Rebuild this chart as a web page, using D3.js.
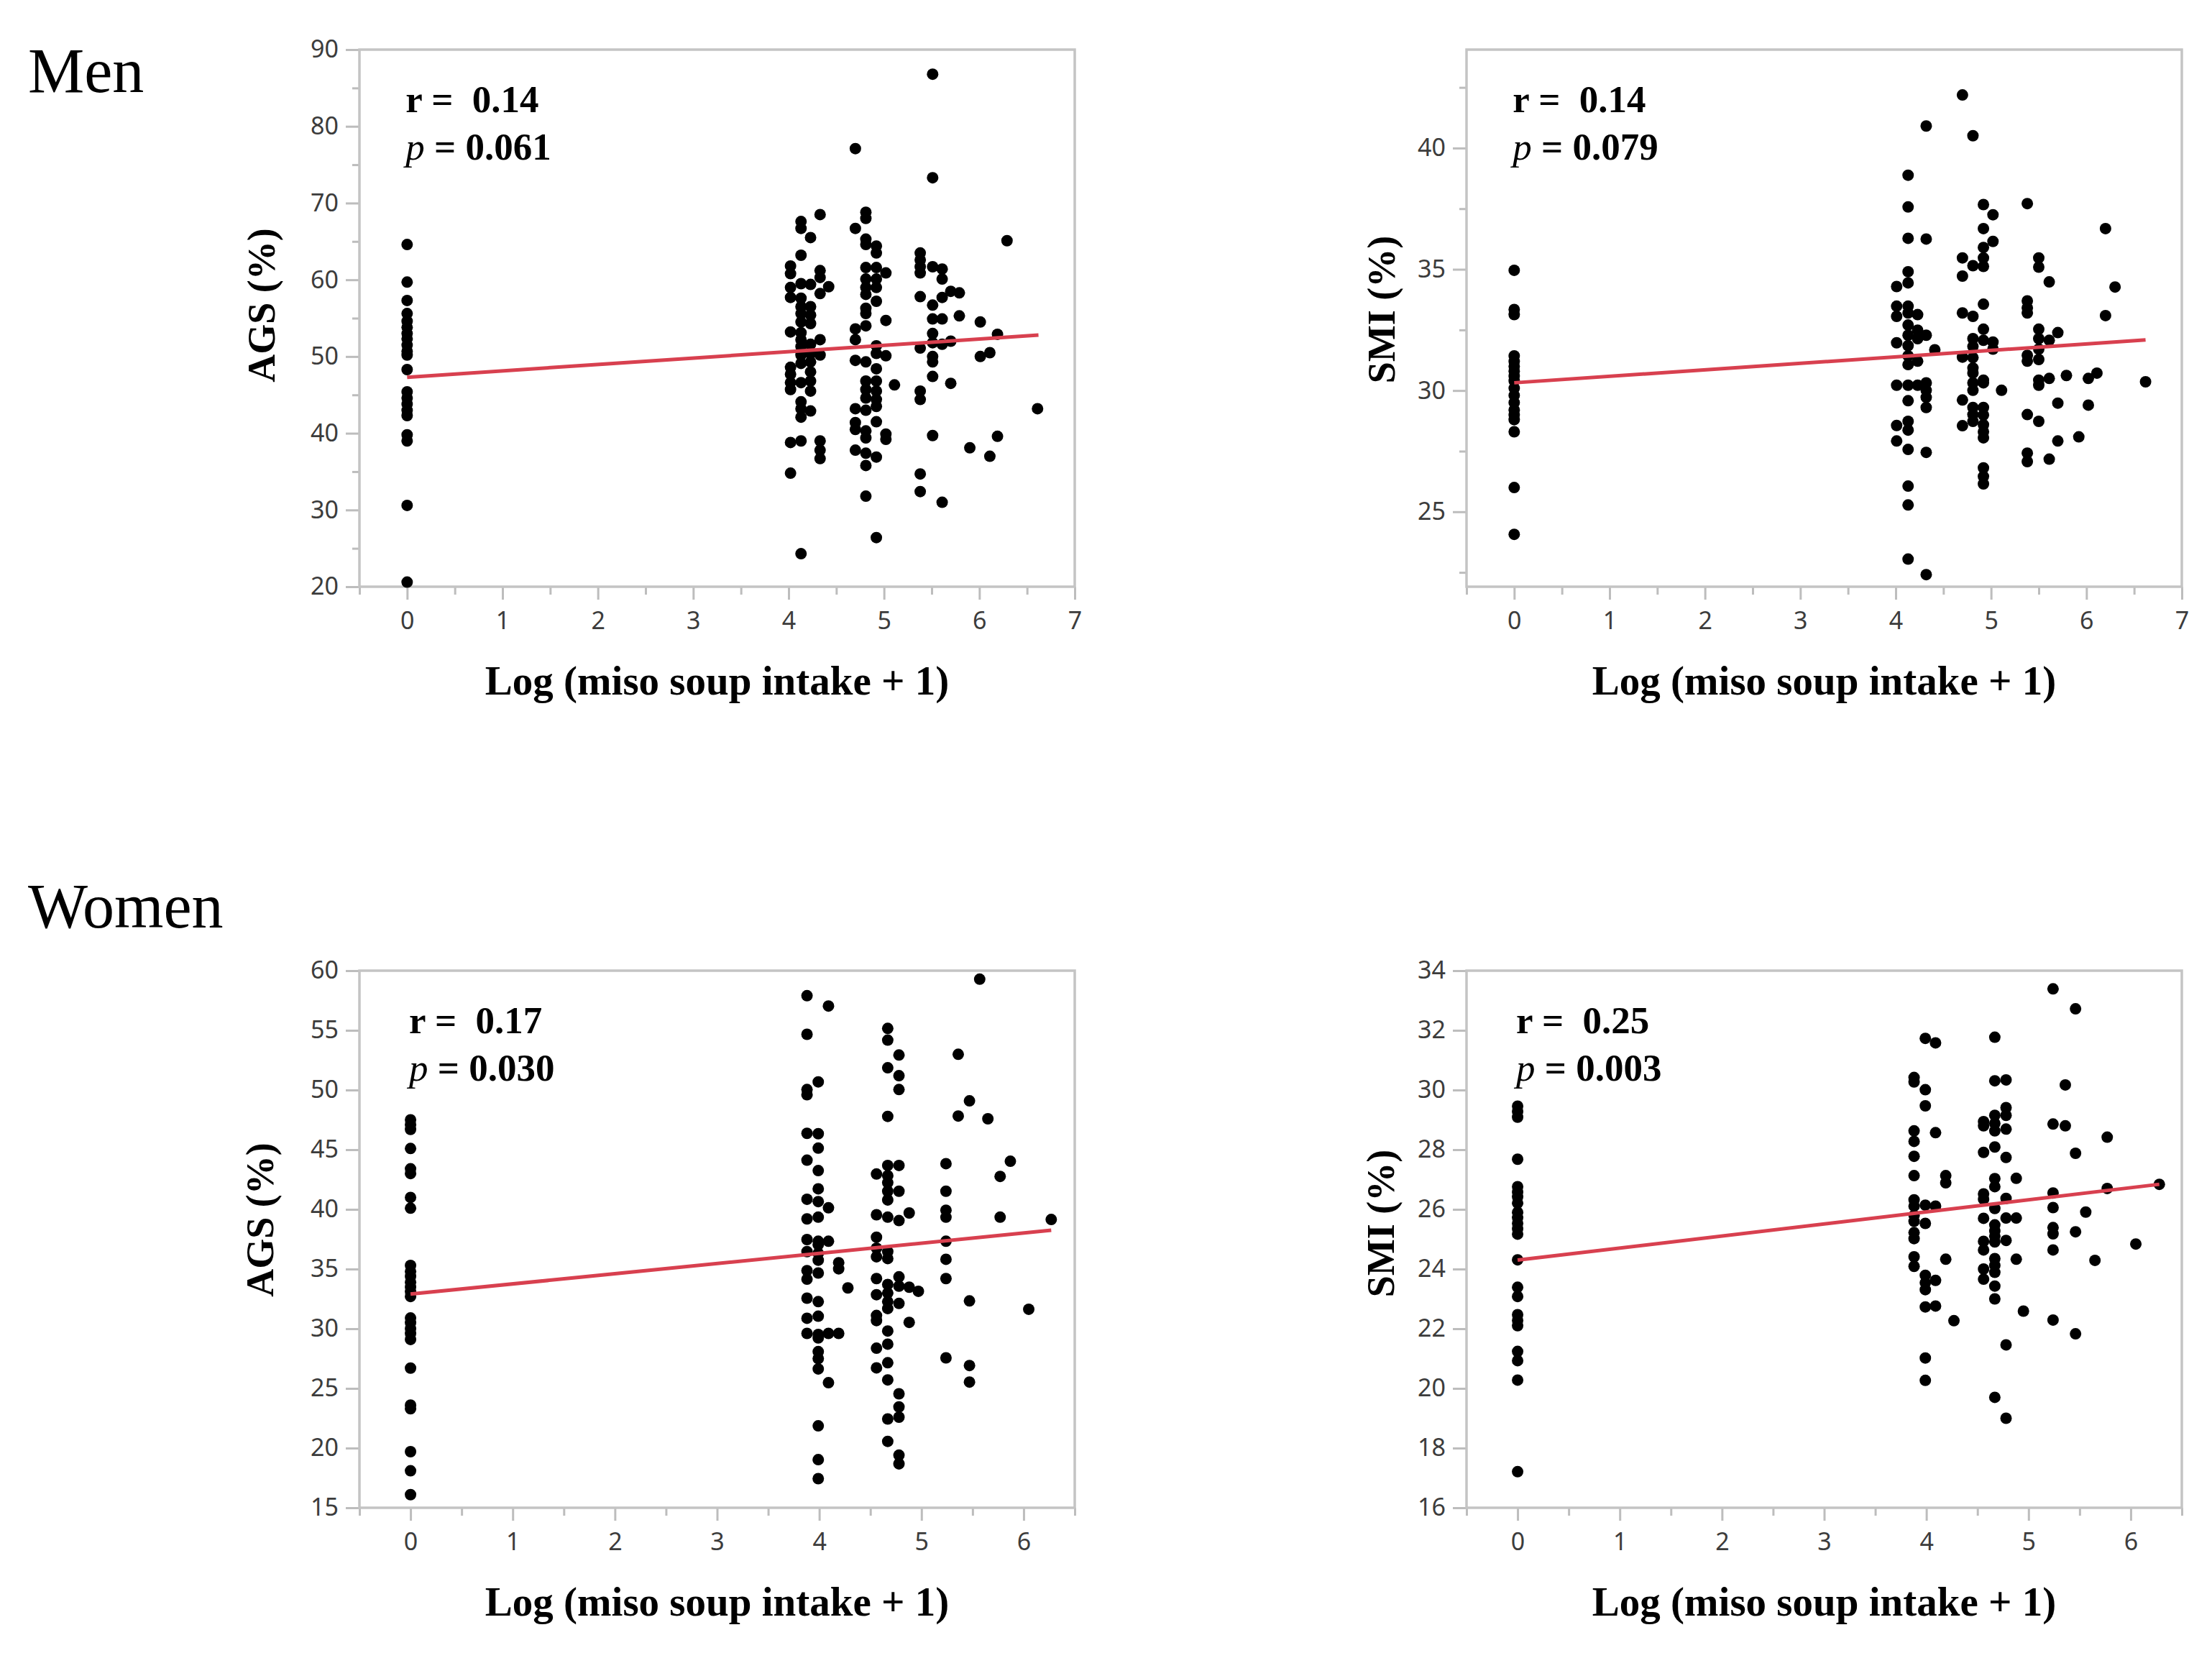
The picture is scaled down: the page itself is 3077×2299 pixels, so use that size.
<!DOCTYPE html>
<html>
<head>
<meta charset="utf-8" />
<title>Miso soup intake vs AGS / SMI</title>
<script src="https://cdn.jsdelivr.net/npm/d3@7/dist/d3.min.js"></script>
<style>
  body { margin: 0; background: #fff; }
  text { white-space: pre; }
</style>
</head>
<body>
<script>
// ---- data ----
var sexLabels = ["Men", "Women"];

// x = 0 column (no miso soup) and the rest of each panel, as [x, y]
var menAgsZero = [64.6, 59.7, 57.3, 55.6, 54.6, 53.8, 53.0, 52.3, 51.5, 50.7, 50.2, 48.3,
                  45.4, 44.6, 43.8, 43.0, 42.3, 39.8, 39.0, 30.6, 20.6];
var menAgsPoints = [[5.51,86.8],[4.70,77.1],[5.51,73.3],[4.33,68.5],[4.81,68.8],[4.81,68.0],[4.13,67.6],
  [4.13,66.7],[4.23,65.5],[4.70,66.7],[4.81,65.3],[4.81,64.6],[4.92,64.4],[4.92,63.5],[4.13,63.2],
  [5.38,63.5],[5.38,62.6],[5.38,61.7],[5.38,60.9],[4.02,61.8],[4.02,60.8],[4.33,61.2],[4.33,60.3],
  [4.42,59.1],[4.33,58.2],[4.13,59.5],[4.23,59.4],[4.81,61.6],[4.92,61.6],[5.02,60.9],[4.81,60.1],
  [4.92,60.1],[4.81,59.0],[4.92,59.0],[4.81,58.1],[4.92,57.2],[4.81,56.3],[4.81,55.6],[5.02,54.7],
  [4.81,54.0],[5.51,61.7],[5.61,61.4],[5.61,60.1],[4.02,59.0],[4.02,57.7],[4.13,57.6],[4.13,56.5],
  [4.23,56.5],[4.13,55.6],[4.23,55.4],[4.13,54.5],[4.23,54.3],[4.02,53.2],[4.13,53.1],[4.13,52.2],
  [4.33,52.2],[4.23,51.6],[4.13,51.3],[4.23,50.4],[4.33,50.2],[4.13,50.2],[5.38,57.8],[5.51,56.7],
  [5.61,57.7],[5.70,58.5],[5.79,58.3],[5.51,54.9],[5.61,54.9],[5.79,55.3],[6.01,54.5],[5.51,53.0],
  [5.51,51.8],[5.61,51.6],[5.70,52.0],[5.38,51.1],[6.19,52.9],[4.70,53.6],[4.70,52.2],[4.92,51.4],
  [4.92,50.4],[5.02,50.1],[4.70,49.5],[4.81,49.3],[4.92,48.4],[4.81,46.8],[4.92,46.8],[5.11,46.3],
  [4.81,45.7],[4.92,45.5],[4.81,44.6],[4.92,44.4],[4.92,43.5],[4.70,43.2],[4.81,43.0],[4.92,41.5],
  [4.70,41.4],[4.70,40.5],[4.81,40.3],[4.81,39.4],[5.02,39.9],[5.02,39.2],[4.70,37.8],[4.81,37.4],
  [4.92,36.9],[4.81,35.8],[4.81,31.8],[4.92,26.4],[6.01,50.0],[6.11,50.5],[4.02,48.6],[4.13,49.1],
  [4.23,49.3],[4.02,47.7],[4.23,48.0],[4.02,46.6],[4.13,46.6],[4.23,46.8],[4.02,45.7],[4.23,45.5],
  [4.13,44.1],[4.13,43.2],[4.23,42.9],[4.13,42.1],[4.02,38.8],[4.13,39.0],[4.33,39.0],[4.33,37.8],
  [4.33,36.7],[4.02,34.8],[4.13,24.3],[5.51,50.0],[5.51,49.3],[5.51,47.4],[5.70,46.5],[5.38,45.5],
  [5.38,44.4],[5.51,39.7],[5.90,38.1],[6.11,37.0],[6.19,39.6],[5.38,34.7],[5.38,32.4],[5.61,31.0],
  [6.29,65.1],[6.61,43.2]];

var menSmiZero = [34.96, 33.34, 33.13, 31.43, 31.2, 31.0, 30.8, 30.6, 30.4, 30.1, 29.8, 29.5,
                  29.2, 29.0, 28.8, 28.3, 26.0, 24.07];
var menSmiPoints = [[4.70,42.19],[4.32,40.91],[4.81,40.51],[4.13,38.88],[4.13,37.57],[4.92,37.67],
  [5.02,37.25],[5.38,37.71],[4.13,36.28],[4.32,36.25],[4.92,36.68],[5.02,36.15],[4.92,35.90],
  [6.20,36.68],[4.70,35.47],[4.92,35.47],[4.81,35.15],[4.92,35.12],[5.50,35.47],[5.50,35.09],
  [4.70,34.72],[5.61,34.48],[6.30,34.27],[4.13,34.90],[4.13,34.44],[4.01,34.29],[4.01,33.48],
  [4.13,33.48],[4.01,33.06],[4.13,33.20],[4.23,33.13],[4.13,32.70],[4.23,32.49],[4.32,32.28],
  [4.13,32.28],[4.01,31.97],[4.13,31.85],[4.23,32.14],[4.41,31.68],[4.13,31.43],[4.23,31.21],
  [4.13,31.07],[4.92,33.56],[4.70,33.20],[4.81,33.06],[5.38,33.70],[5.38,33.41],[5.38,33.20],
  [6.20,33.09],[4.92,32.53],[4.81,32.14],[4.92,32.07],[5.02,32.00],[4.81,31.82],[5.02,31.71],
  [5.50,32.53],[5.70,32.39],[5.50,32.14],[5.61,32.07],[5.50,31.71],[4.70,31.38],[4.81,31.36],
  [4.81,30.93],[4.81,30.72],[5.38,31.45],[5.38,31.21],[5.50,31.28],[4.01,30.22],[4.13,30.22],
  [4.23,30.22],[4.32,30.32],[4.32,30.01],[4.32,29.72],[4.32,29.30],[4.13,29.58],[4.92,30.43],
  [4.81,30.32],[4.92,30.32],[4.81,30.01],[5.11,30.01],[5.50,30.43],[5.61,30.50],[5.79,30.62],
  [6.02,30.50],[6.11,30.72],[5.50,30.22],[6.62,30.36],[4.70,29.61],[4.81,29.30],[4.92,29.30],
  [4.81,29.01],[4.92,28.99],[4.81,28.73],[4.92,28.59],[4.92,28.30],[4.92,28.05],[5.70,29.48],
  [6.02,29.40],[4.01,28.56],[4.13,28.73],[4.13,28.37],[4.01,27.92],[4.13,27.57],[4.32,27.45],
  [4.70,28.55],[5.38,29.01],[5.50,28.73],[5.70,27.92],[5.92,28.09],[5.38,27.42],[5.38,27.07],
  [5.61,27.17],[4.92,26.81],[4.92,26.46],[4.92,26.15],[4.13,26.06],[4.13,25.28],[4.13,23.05],
  [4.32,22.41]];

var womenAgsZero = [47.5, 47.1, 46.7, 45.1, 43.4, 43.0, 41.0, 40.1, 35.3, 34.8, 34.4, 33.9, 33.5,
                    33.1, 32.7, 30.9, 30.5, 30.0, 29.6, 29.1, 26.7, 23.6, 23.3, 19.7, 18.1, 16.1];
var womenAgsPoints = [[5.57,59.29],[3.88,57.90],[4.09,57.04],[3.88,54.67],[4.67,55.16],[4.67,54.18],
  [4.78,52.93],[5.36,52.99],[4.67,51.86],[4.78,51.20],[4.78,50.04],[3.88,50.04],[3.88,49.61],
  [3.99,50.68],[5.47,49.09],[4.67,47.79],[5.36,47.82],[5.65,47.59],[3.88,46.37],[3.99,46.34],
  [3.99,45.13],[3.88,44.12],[3.99,43.25],[5.24,43.83],[5.87,44.03],[5.77,42.76],[4.56,42.96],
  [4.67,43.68],[4.78,43.68],[4.67,42.82],[4.67,42.24],[4.78,41.52],[4.67,41.52],[4.67,40.79],
  [5.24,41.52],[3.99,41.72],[3.88,40.85],[3.99,40.65],[4.09,40.13],[4.56,39.55],[4.67,39.35],
  [4.78,39.06],[4.88,39.70],[3.88,39.20],[3.99,39.35],[5.24,39.93],[5.24,39.35],[5.77,39.35],
  [6.27,39.15],[5.24,37.33],[3.88,37.47],[3.99,37.33],[4.09,37.33],[3.99,37.04],[3.88,36.46],
  [3.99,36.31],[3.99,35.74],[4.56,37.67],[4.56,36.75],[4.56,36.03],[4.67,36.46],[4.67,35.88],
  [4.19,35.53],[4.19,35.02],[3.88,34.87],[3.99,34.67],[3.88,34.15],[5.24,35.82],[5.24,34.20],
  [4.28,33.42],[4.56,34.20],[4.78,34.35],[4.67,33.71],[4.78,33.57],[4.88,33.48],[4.97,33.14],
  [4.67,32.99],[4.56,32.85],[4.67,32.27],[4.78,32.12],[4.67,31.69],[3.88,32.56],[3.99,32.27],
  [5.47,32.33],[6.05,31.63],[4.56,31.11],[4.56,30.68],[4.88,30.53],[3.88,30.88],[3.99,31.05],
  [3.88,29.61],[3.99,29.52],[4.09,29.61],[4.19,29.61],[3.99,29.23],[4.67,29.81],[4.67,28.71],
  [4.56,28.37],[3.99,28.08],[3.99,27.50],[3.99,26.63],[4.09,25.48],[5.24,27.56],[5.47,26.92],
  [5.47,25.53],[4.56,26.72],[4.67,27.15],[4.67,25.71],[4.78,24.55],[4.78,23.45],[4.67,22.44],
  [4.78,22.59],[3.99,21.86],[4.67,20.56],[4.78,19.41],[4.78,18.68],[3.99,19.03],[3.99,17.44]];

var womenSmiZero = [29.46, 29.28, 29.09, 27.68, 26.76, 26.58, 26.42, 26.21, 25.90, 25.72, 25.53,
                    25.35, 25.17, 24.31, 23.39, 23.08, 22.47, 22.28, 22.10, 21.24, 20.93, 20.28, 17.21];
var womenSmiPoints = [[5.24,33.39],[5.46,32.72],[3.99,31.73],[4.09,31.58],[4.67,31.77],[3.88,30.42],
  [3.88,30.27],[3.99,30.01],[3.99,29.47],[4.67,30.31],[4.78,30.34],[5.36,30.17],[4.78,29.41],
  [4.78,29.15],[4.67,29.15],[4.56,28.94],[4.56,28.80],[4.67,28.88],[4.78,28.69],[4.67,28.63],
  [3.88,28.63],[3.88,28.28],[4.09,28.57],[5.24,28.86],[5.36,28.80],[5.77,28.42],[3.88,27.78],
  [4.56,27.91],[4.67,28.09],[4.78,27.74],[5.46,27.88],[3.88,27.13],[4.19,27.13],[4.19,26.89],
  [4.88,27.04],[4.67,27.03],[4.67,26.76],[5.24,26.55],[5.77,26.70],[6.28,26.84],[4.56,26.52],
  [4.56,26.34],[4.78,26.37],[3.88,26.32],[3.88,26.11],[3.99,26.14],[4.09,26.11],[4.67,26.03],
  [5.24,26.06],[5.56,25.91],[3.88,25.80],[3.88,25.60],[3.99,25.53],[4.56,25.70],[4.78,25.71],
  [4.88,25.71],[4.67,25.48],[4.67,25.28],[4.67,25.10],[4.67,24.91],[4.78,24.96],[5.24,25.39],
  [5.24,25.18],[5.46,25.25],[3.88,25.22],[3.88,25.02],[4.56,24.93],[4.56,24.64],[5.24,24.64],
  [6.05,24.84],[3.88,24.41],[3.88,24.09],[4.19,24.33],[4.88,24.33],[5.65,24.29],[4.67,24.35],
  [4.67,24.12],[4.67,23.89],[4.56,24.00],[4.56,23.66],[3.99,23.79],[3.99,23.54],[4.09,23.62],
  [3.99,23.31],[4.67,23.43],[4.67,23.00],[3.99,22.73],[4.09,22.76],[4.27,22.27],[4.95,22.59],
  [5.24,22.29],[5.46,21.83],[4.78,21.46],[3.99,21.02],[3.99,20.27],[4.67,19.70],[4.78,19.00]];

// fitted lines [x0, y0, x1, y1]
var menAgsFit = [0, 47.3, 6.62, 52.8];
var menSmiFit = [0, 30.32, 6.62, 32.09];
var womenAgsFit = [0, 32.9, 6.27, 38.25];
var womenSmiFit = [0, 24.3, 6.28, 26.84];

// r and p values
var rValues = ["0.14", "0.14", "0.17", "0.25"];
var pValues = ["0.061", "0.079", "0.030", "0.003"];

// tick values
var menAgsTicks = [20, 30, 40, 50, 60, 70, 80, 90];
var menAgsMinor = [25, 35, 45, 55, 65, 75, 85];
var menSmiTicks = [25, 30, 35, 40];
var menSmiMinor = [22.5, 27.5, 32.5, 37.5, 42.5];
var womenAgsTicks = [15, 20, 25, 30, 35, 40, 45, 50, 55, 60];
var womenSmiTicks = [16, 18, 20, 22, 24, 26, 28, 30, 32, 34];
var menXTicks = [0, 1, 2, 3, 4, 5, 6, 7];
var womenXTicks = [0, 1, 2, 3, 4, 5, 6];
var xMinorTicks = [-0.5, 0.5, 1.5, 2.5, 3.5, 4.5, 5.5, 6.5];

var xTitle = "Log (miso soup intake + 1)";

// ---- layout ----
var width = 3077, height = 2299;
var pw = 995, ph = 747;
var serif = "'Liberation Serif', 'DejaVu Serif', serif";
var sans = "'Noto Sans', 'Open Sans', sans-serif";

var panels = [
  { left: 500,  top: 69,   xDom: [-0.5, 7],   yDom: [20, 90],        yTicks: menAgsTicks, yMinor: menAgsMinor,
    xTicks: menXTicks,   zero: menAgsZero,   pts: menAgsPoints,   fit: menAgsFit,   yTitle: "AGS (%)", titleDx: -137, titleDy: -18 },
  { left: 2040, top: 69,   xDom: [-0.5, 7],   yDom: [21.91, 44.06],  yTicks: menSmiTicks, yMinor: menSmiMinor,
    xTicks: menXTicks,   zero: menSmiZero,   pts: menSmiPoints,   fit: menSmiFit,   yTitle: "SMI (%)", titleDx: -119, titleDy: -12 },
  { left: 500,  top: 1350, xDom: [-0.5, 6.5], yDom: [15, 60],        yTicks: womenAgsTicks, yMinor: [],
    xTicks: womenXTicks, zero: womenAgsZero, pts: womenAgsPoints, fit: womenAgsFit, yTitle: "AGS (%)", titleDx: -139, titleDy: -27 },
  { left: 2040, top: 1350, xDom: [-0.5, 6.5], yDom: [16, 34],        yTicks: womenSmiTicks, yMinor: [],
    xTicks: womenXTicks, zero: womenSmiZero, pts: womenSmiPoints, fit: womenSmiFit, yTitle: "SMI (%)", titleDx: -120, titleDy: -22 }
];

var svg = d3.select("body")
            .append("svg")
            .attr("width", width)
            .attr("height", height);

svg.append("rect").attr("width", width).attr("height", height).attr("fill", "#fff");

// Men / Women headings
svg.selectAll("text.sex")
   .data(sexLabels)
   .enter().append("text")
   .attr("class", "sex")
   .attr("x", 39)
   .attr("y", function(d, i) { return i == 0 ? 128 : 1290; })
   .attr("font-family", serif)
   .attr("font-size", 88)
   .attr("fill", "#000")
   .text(function(d) { return d; });

panels.forEach(function(p, i) {
  var x = d3.scaleLinear().domain(p.xDom).range([0, pw]);
  var y = d3.scaleLinear().domain(p.yDom).range([ph, 0]);

  var g = svg.append("g").attr("transform", "translate(" + p.left + "," + p.top + ")");

  // minor ticks
  g.append("g")
   .call(d3.axisLeft(y).tickValues(p.yMinor).tickSize(10).tickFormat(""))
   .call(styleAxis);
  g.append("g")
   .attr("transform", "translate(0," + ph + ")")
   .call(d3.axisBottom(x).tickValues(xMinorTicks.filter(function(v) { return v <= p.xDom[1]; }))
           .tickSize(11).tickFormat(""))
   .call(styleAxis);

  // major ticks with labels
  g.append("g")
   .call(d3.axisLeft(y).tickValues(p.yTicks).tickSize(19).tickPadding(10).tickFormat(d3.format("d")))
   .call(styleAxis);
  g.append("g")
   .attr("transform", "translate(0," + ph + ")")
   .call(d3.axisBottom(x).tickValues(p.xTicks).tickSize(18).tickPadding(17).tickFormat(d3.format("d")))
   .call(styleAxis);

  // frame
  g.append("rect")
   .attr("width", pw).attr("height", ph)
   .attr("fill", "none")
   .attr("stroke", "#c4c4c4")
   .attr("stroke-width", 3.5);

  // points
  var all = p.zero.map(function(v) { return [0, v]; }).concat(p.pts);
  g.selectAll("circle")
   .data(all)
   .enter().append("circle")
   .attr("cx", function(d) { return x(d[0]); })
   .attr("cy", function(d) { return y(d[1]); })
   .attr("r", 8)
   .attr("fill", "#000");

  // fit line
  g.append("line")
   .attr("x1", x(p.fit[0])).attr("y1", y(p.fit[1]))
   .attr("x2", x(p.fit[2])).attr("y2", y(p.fit[3]))
   .attr("stroke", "#d8404f")
   .attr("stroke-width", 5);

  // r / p annotation
  var ax = x(0) - 2;
  g.append("text")
   .attr("x", ax).attr("y", 87)
   .attr("font-family", serif).attr("font-weight", "bold").attr("font-size", 53)
   .text("r =  " + rValues[i]);
  var pt = g.append("text")
   .attr("x", ax).attr("y", 153)
   .attr("font-family", serif).attr("font-weight", "bold").attr("font-size", 53);
  pt.append("tspan").attr("font-style", "italic").attr("font-weight", "normal").text("p");
  pt.append("tspan").text(" = " + pValues[i]);

  // axis titles
  g.append("text")
   .attr("transform", "translate(" + p.titleDx + "," + (ph / 2 + p.titleDy) + ") rotate(-90)")
   .attr("text-anchor", "middle")
   .attr("dy", "0.35em")
   .attr("font-family", serif).attr("font-weight", "bold").attr("font-size", 54)
   .text(p.yTitle);
  g.append("text")
   .attr("x", pw / 2).attr("y", ph + 150)
   .attr("text-anchor", "middle")
   .attr("font-family", serif).attr("font-weight", "bold").attr("font-size", 57)
   .text(xTitle);
});

function styleAxis(sel) {
  sel.select(".domain").remove();
  sel.selectAll(".tick line").attr("stroke", "#bdbdbd").attr("stroke-width", 3);
  sel.selectAll(".tick text")
     .attr("font-family", sans)
     .attr("font-size", 34)
     .attr("fill", "#3c3c3c");
}
</script>
</body>
</html>
